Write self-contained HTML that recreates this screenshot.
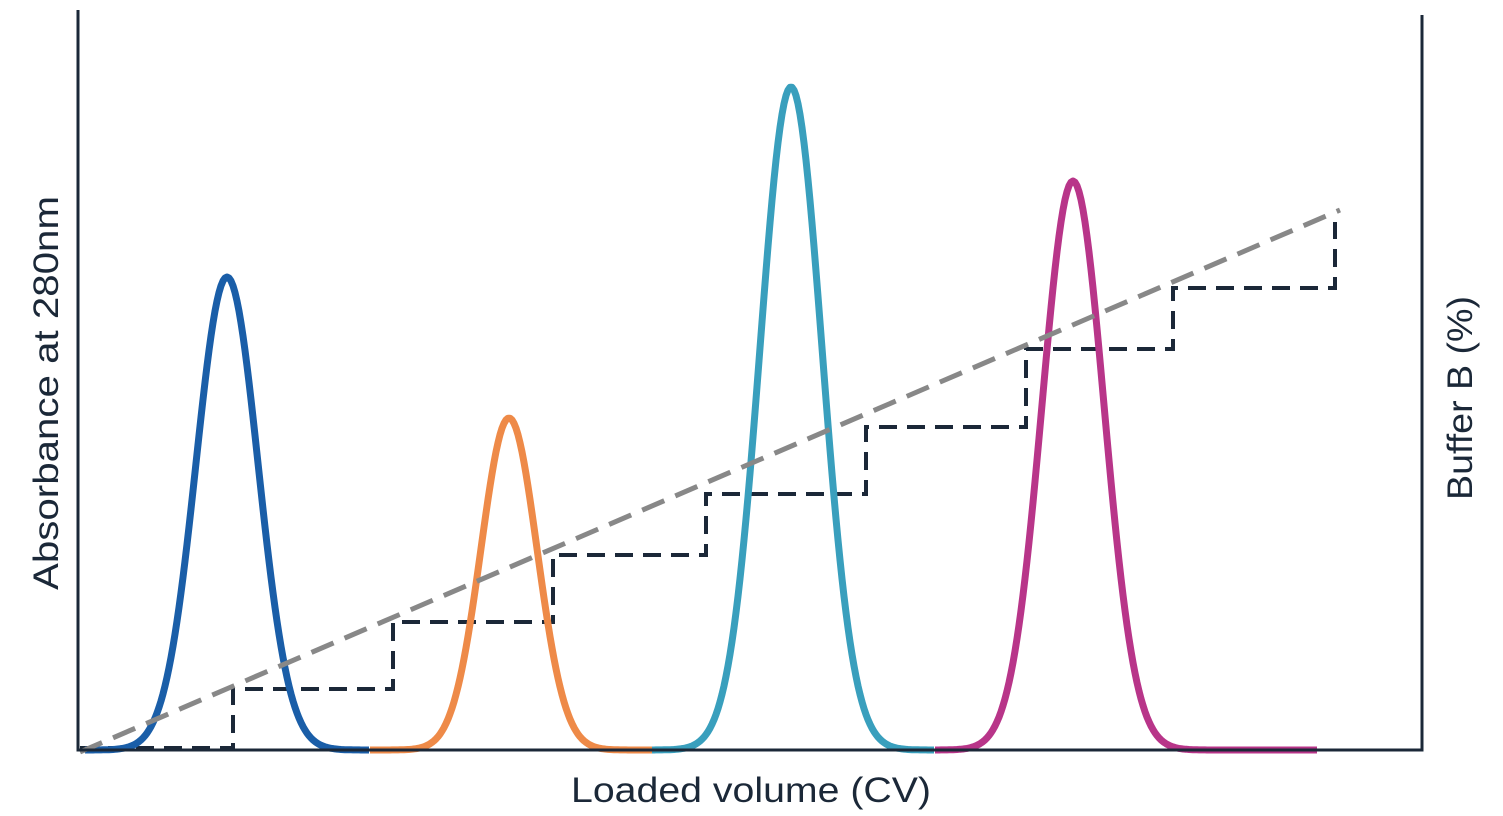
<!DOCTYPE html>
<html><head><meta charset="utf-8">
<style>
html,body{margin:0;padding:0;background:#fff;width:1503px;height:816px;overflow:hidden}
svg{display:block}
text{font-family:"Liberation Sans",sans-serif;fill:#1b2838}
</style></head>
<body>
<svg id="s" width="1503" height="816" viewBox="0 0 1503 816" xmlns="http://www.w3.org/2000/svg">
<path d="M80,748 H233 V689 H393 V622 H553 V555 H706 V494 H866 V427 H1026 V349 H1173 V288 H1335 V222" fill="none" stroke="#1b2838" stroke-width="4" stroke-dasharray="18,10"/>
<g id="peaks"></g>
<line x1="80" y1="752" x2="1340" y2="210" stroke="#888888" stroke-width="5" stroke-dasharray="24,12"/>
<path d="M78,10 V750 H1422 V15" fill="none" stroke="#1b2838" stroke-width="3"/>
<text x="571" y="802" font-size="35" textLength="360" lengthAdjust="spacingAndGlyphs">Loaded volume (CV)</text>
<text transform="translate(58,590) rotate(-90)" font-size="35" textLength="394" lengthAdjust="spacingAndGlyphs">Absorbance at 280nm</text>
<text transform="translate(1472,500) rotate(-90)" font-size="35" textLength="204" lengthAdjust="spacingAndGlyphs">Buffer B (%)</text>
</svg>
<script>
var peaks=[[227,277,85,370,'#1a5ea8',31],[509,418,370,652,'#ee8a48',28],[791,87,652,935,'#399fbd',31],[1073,181,935,1318,'#b83589',31]];
var g=document.getElementById('peaks'),h='';
peaks.forEach(function(p){
 var c=p[0],top=p[1],a=p[2],b=p[3],col=p[4],s=p[5],d='';
 for(var x=a;x<=b;x+=2){
  var y=750-(750-top)*Math.exp(-Math.pow((x-c)/s,2)/2);
  d+=(x==a?'M':'L')+x+','+y.toFixed(1)+' ';
 }
 h+='<path d="'+d+'" fill="none" stroke="'+col+'" stroke-width="7" stroke-linejoin="round"/>';
});
g.innerHTML=h;
</script>
</body></html>
